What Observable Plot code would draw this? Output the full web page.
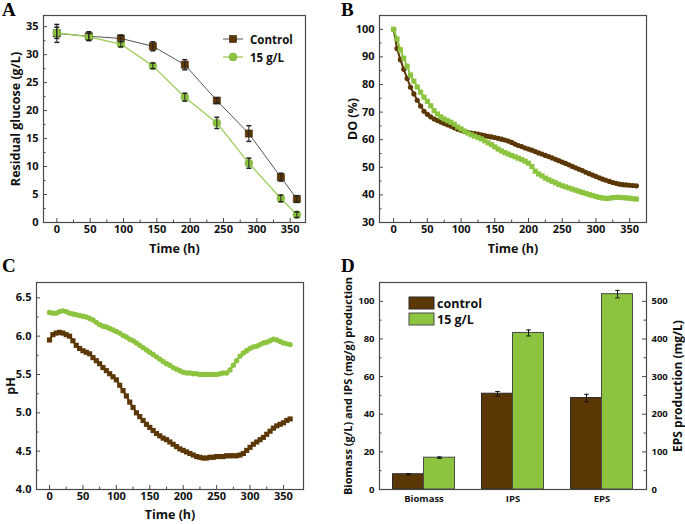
<!DOCTYPE html>
<html><head><meta charset="utf-8">
<script src="https://cdn.jsdelivr.net/npm/d3@7"></script>
<script src="https://cdn.jsdelivr.net/npm/@observablehq/plot@0.6"></script>
<style>
body{margin:0;background:#fff;}
#fig{position:relative;width:685px;height:524px;overflow:hidden;background:#fff;font-family:"Open Sans",sans-serif;}
#fig .p{position:absolute;}
#overlay{position:absolute;left:0;top:0;pointer-events:none;}
</style></head><body><div id="fig"></div>
<script>
// ---------- Colours ----------
const BROWN = "#5c3706", BROWN_EDGE = "#3a2100", GREEN = "#8cc43f", GREEN_LINE = "#9ccc5a", FRAME = "#4a4a4a";
const FONT = "'Open Sans', sans-serif";

// ---------- Panel A: residual glucose ----------
const glucoseTime = [0, 48, 96, 144, 192, 240, 288, 336, 360];
const glucoseControl = [33.8, 33.3, 32.9, 31.5, 28.2, 21.8, 15.9, 8.1, 4.2];
const glucoseControlErr = [1.6, 0.8, 0.6, 0.8, 0.9, 0.5, 1.4, 0.7, 0.6];
const glucose15 = [33.9, 33.2, 31.9, 28.0, 22.4, 17.8, 10.6, 4.3, 1.4];
const glucose15Err = [1.0, 0.6, 0.5, 0.5, 0.7, 1.0, 0.9, 0.6, 0.5];
const timeTicks = [0, 50, 100, 150, 200, 250, 300, 350];
const timeMinor = [25, 75, 125, 175, 225, 275, 325];
const glucoseTicks = [0, 5, 10, 15, 20, 25, 30, 35];
const glucoseMinor = [2.5, 7.5, 12.5, 17.5, 22.5, 27.5, 32.5];

// ---------- Panel B: dissolved oxygen ----------
const doTime = [0,5,10,15,20,25,30,35,40,45,50,55,60,65,70,75,80,85,90,95,100,105,110,115,120,125,130,135,140,145,150,155,160,165,170,175,180,185,190,195,200,205,210,215,220,225,230,235,240,245,250,255,260,265,270,275,280,285,290,295,300,305,310,315,320,325,330,335,340,345,350,355,360];
const doControl = [100,93,89,85.5,82.2,79,76.6,74.3,72.2,70.3,69.2,68.3,67.5,67,66.4,65.9,65.4,64.9,64.3,63.8,63.4,63,62.7,62.4,62.2,62,61.8,61.5,61.2,61,60.8,60.5,60.2,59.9,59.5,59,58.4,57.9,57.5,57,56.6,56.2,55.7,55.2,54.8,54.3,53.9,53.4,52.9,52.4,51.9,51.4,50.9,50.3,49.8,49.3,48.8,48.2,47.7,47.2,46.7,46.2,45.7,45.3,44.9,44.5,44.2,43.9,43.7,43.6,43.5,43.4,43.3];
const do15 = [100,96.5,92.6,89.5,86.6,83.4,81.2,79.1,77.2,75.4,73.9,72.3,70.5,69.3,68.3,67.5,66.9,66.3,65.6,64.6,63.9,63.1,62.4,61.8,61.3,60.8,60.3,59.6,58.9,58.2,57.4,56.6,55.9,55.3,54.8,54.3,53.8,53.3,52.8,52.2,51.5,50.3,48.6,47.6,46.9,46.1,45.5,44.9,44.4,43.8,43.3,42.9,42.5,42.1,41.7,41.3,40.9,40.5,40.1,39.8,39.4,39.1,38.9,38.7,38.8,39,39.1,39.1,39,38.9,38.8,38.6,38.5];
const doTicks = [30, 40, 50, 60, 70, 80, 90, 100];
const doMinor = [35, 45, 55, 65, 75, 85, 95];

// ---------- Panel C: pH ----------
const phTime = doTime;
const phControl = [5.95,6.02,6.04,6.05,6.04,6.02,6.00,5.94,5.88,5.84,5.81,5.79,5.77,5.72,5.68,5.64,5.59,5.55,5.51,5.47,5.43,5.36,5.29,5.22,5.14,5.07,5.00,4.95,4.90,4.85,4.81,4.77,4.73,4.70,4.67,4.65,4.62,4.59,4.56,4.53,4.51,4.49,4.47,4.45,4.43,4.42,4.41,4.41,4.42,4.42,4.43,4.43,4.43,4.44,4.44,4.44,4.44,4.45,4.47,4.51,4.55,4.59,4.62,4.65,4.68,4.72,4.76,4.80,4.83,4.85,4.87,4.90,4.92];
const ph15 = [6.31,6.30,6.30,6.32,6.33,6.32,6.30,6.29,6.28,6.27,6.26,6.25,6.23,6.21,6.18,6.15,6.13,6.12,6.10,6.08,6.06,6.04,6.01,5.99,5.96,5.94,5.91,5.88,5.85,5.82,5.79,5.76,5.73,5.70,5.67,5.64,5.62,5.59,5.57,5.55,5.53,5.52,5.52,5.51,5.51,5.50,5.50,5.50,5.50,5.50,5.50,5.51,5.52,5.52,5.56,5.62,5.68,5.74,5.78,5.81,5.84,5.86,5.87,5.89,5.91,5.92,5.94,5.96,5.95,5.93,5.91,5.90,5.89];
const phTicks = [4.0, 4.5, 5.0, 5.5, 6.0, 6.5];
const phMinor = [4.25, 4.75, 5.25, 5.75, 6.25];

// ---------- Panel D: production ----------
const prodCategories = ["Biomass", "IPS", "EPS"];
const prodControl = [8.1, 50.9, 243];     // Biomass g/L, IPS mg/g, EPS mg/L
const prodControlErr = [0.4, 1.2, 10];
const prod15 = [16.9, 83.2, 519];
const prod15Err = [0.4, 1.6, 10];
const prodLeftTicks = [0, 20, 40, 60, 80, 100];
const prodLeftMinor = [10, 30, 50, 70, 90];
const prodRightTicks = [0, 100, 200, 300, 400, 500];   // EPS mg/L
const prodRightMinor = [50, 150, 250, 350, 450, 550];
const EPS_FACTOR = 5; // 100 on the left axis = 500 mg/L on the right axis

// ---------- helpers ----------
const capSymbol = {draw(ctx, size) { const r = Math.sqrt(size / Math.PI); ctx.moveTo(-r, 0); ctx.lineTo(r, 0); }};
const baseStyle = {fontFamily: FONT, fontSize: "11px", fontWeight: "bold", color: "#111", background: "transparent", overflow: "visible"};
const titleX = (t, dy, size = 12.5) => Plot.text([t], {text: d => d, frameAnchor: "bottom", dy, lineAnchor: "middle", textAnchor: "middle", fontSize: size, fontWeight: "bold"});
const titleY = (t, side, dx, size = 12.5) => Plot.text([t], {text: d => d, frameAnchor: side, dx, rotate: -90, lineAnchor: "middle", textAnchor: "middle", fontSize: size, fontWeight: "bold"});

function inwardTicks({plotW, plotH, xMajor = [], xMinor = [], yMajor = [], yMinor = [], rMajor = [], rMinor = []}) {
  const s = {stroke: FRAME, strokeWidth: 1};
  return [
    Plot.tickX(xMajor, {x: d => d, insetTop: plotH - 4, ...s}),
    Plot.tickX(xMinor, {x: d => d, insetTop: plotH - 2.5, ...s}),
    Plot.tickY(yMajor, {y: d => d, insetRight: plotW - 4, ...s}),
    Plot.tickY(yMinor, {y: d => d, insetRight: plotW - 2.5, ...s}),
    Plot.tickY(rMajor, {y: d => d, insetLeft: plotW - 4, ...s}),
    Plot.tickY(rMinor, {y: d => d, insetLeft: plotW - 2.5, ...s}),
    Plot.frame({stroke: FRAME, strokeWidth: 1.2})
  ];
}

const fig = document.getElementById("fig");
function place(el, left, top) {
  const d = document.createElement("div");
  d.className = "p"; d.style.left = left + "px"; d.style.top = top + "px";
  d.appendChild(el); fig.appendChild(d);
}

// ---------- Panel A ----------
{
  const rows = glucoseTime.map((t, i) => ({t, c: glucoseControl[i], ce: glucoseControlErr[i], g: glucose15[i], ge: glucose15Err[i]}));
  const W = 340, H = 255, mL = 43, mR = 35, mT = 15, mB = 33;
  const p = Plot.plot({
    width: W, height: H, marginLeft: mL, marginRight: mR, marginTop: mT, marginBottom: mB,
    x: {domain: [-20, 373]}, y: {domain: [0, 37]},
    style: baseStyle,
    marks: [
      ...inwardTicks({plotW: W - mL - mR, plotH: H - mT - mB, xMajor: timeTicks, xMinor: timeMinor, yMajor: glucoseTicks, yMinor: glucoseMinor}),
      Plot.axisX({ticks: timeTicks, tickSize: 0, tickPadding: 3, label: null, fontSize: 11, fontWeight: "bold"}),
      Plot.axisY({ticks: glucoseTicks, tickSize: 0, tickPadding: 5, label: null, fontSize: 11, fontWeight: "bold"}),
      titleX("Time (h)", 26),
      titleY("Residual glucose (g/L)", "left", -28),
      Plot.line(rows, {x: "t", y: "c", stroke: "#555", strokeWidth: 1}),
      Plot.line(rows, {x: "t", y: "g", stroke: GREEN_LINE, strokeWidth: 1.3}),
      Plot.dot(rows, {x: "t", y: "c", symbol: "square", r: 4, fill: BROWN, stroke: BROWN_EDGE, strokeWidth: 0.6}),
      Plot.dot(rows, {x: "t", y: "g", symbol: "circle", r: 3.9, fill: GREEN, stroke: "#7ab03a", strokeWidth: 0.6}),
      Plot.ruleX(rows, {x: "t", y1: d => d.c - d.ce, y2: d => d.c + d.ce, stroke: "#222", strokeWidth: 1}),
      Plot.dot(rows, {x: "t", y: d => d.c - d.ce, symbol: capSymbol, r: 2.5, stroke: "#222", fill: "none"}),
      Plot.dot(rows, {x: "t", y: d => d.c + d.ce, symbol: capSymbol, r: 2.5, stroke: "#222", fill: "none"}),
      Plot.ruleX(rows, {x: "t", y1: d => d.g - d.ge, y2: d => d.g + d.ge, stroke: "#222", strokeWidth: 1}),
      Plot.dot(rows, {x: "t", y: d => d.g - d.ge, symbol: capSymbol, r: 2.5, stroke: "#222", fill: "none"}),
      Plot.dot(rows, {x: "t", y: d => d.g + d.ge, symbol: capSymbol, r: 2.5, stroke: "#222", fill: "none"})
    ]
  });
  place(p, 0, 0);
}

// ---------- Panel B ----------
{
  const rows = doTime.map((t, i) => ({t, c: doControl[i], g: do15[i]}));
  const W = 345, H = 255, mL = 39, mR = 39, mT = 15, mB = 33;
  const p = Plot.plot({
    width: W, height: H, marginLeft: mL, marginRight: mR, marginTop: mT, marginBottom: mB,
    x: {domain: [-21, 375]}, y: {domain: [30, 105]},
    style: baseStyle,
    marks: [
      ...inwardTicks({plotW: W - mL - mR, plotH: H - mT - mB, xMajor: timeTicks, xMinor: timeMinor, yMajor: doTicks, yMinor: doMinor}),
      Plot.axisX({ticks: timeTicks, tickSize: 0, tickPadding: 3, label: null, fontSize: 11, fontWeight: "bold"}),
      Plot.axisY({ticks: doTicks, tickSize: 0, tickPadding: 5, label: null, fontSize: 11, fontWeight: "bold"}),
      titleX("Time (h)", 26),
      titleY("DO (%)", "left", -27),
      Plot.line(rows, {x: "t", y: "c", stroke: BROWN, strokeWidth: 2}),
      Plot.dot(rows, {x: "t", y: "c", symbol: "circle", r: 2.6, fill: BROWN, stroke: "none"}),
      Plot.line(rows, {x: "t", y: "g", stroke: GREEN, strokeWidth: 2}),
      Plot.dot(rows, {x: "t", y: "g", symbol: "square", r: 2.9, fill: GREEN, stroke: "none"})
    ]
  });
  place(p, 340, 0);
}

// ---------- Panel C ----------
{
  const rows = phTime.map((t, i) => ({t, c: phControl[i], g: ph15[i]}));
  const W = 340, H = 269, mL = 36, mR = 37, mT = 27, mB = 35;
  const p = Plot.plot({
    width: W, height: H, marginLeft: mL, marginRight: mR, marginTop: mT, marginBottom: mB,
    x: {domain: [-19.5, 380]}, y: {domain: [4, 6.7]},
    style: baseStyle,
    marks: [
      ...inwardTicks({plotW: W - mL - mR, plotH: H - mT - mB, xMajor: timeTicks, xMinor: timeMinor, yMajor: phTicks, yMinor: phMinor}),
      Plot.axisX({ticks: timeTicks, tickSize: 0, tickPadding: 3, label: null, fontSize: 11, fontWeight: "bold"}),
      Plot.axisY({ticks: phTicks, tickSize: 0, tickPadding: 5, label: null, tickFormat: d3.format(".1f"), fontSize: 11, fontWeight: "bold"}),
      titleX("Time (h)", 25),
      titleY("pH", "left", -26),
      Plot.line(rows, {x: "t", y: "g", stroke: GREEN, strokeWidth: 2}),
      Plot.dot(rows, {x: "t", y: "g", symbol: "circle", r: 2.7, fill: GREEN, stroke: "none"}),
      Plot.line(rows, {x: "t", y: "c", stroke: BROWN, strokeWidth: 2}),
      Plot.dot(rows, {x: "t", y: "c", symbol: "square", r: 2.9, fill: BROWN, stroke: "none"})
    ]
  });
  place(p, 0, 255);
}

// ---------- Panel D ----------
{
  const rows = prodCategories.map((cat, i) => {
    const f = cat === "EPS" ? EPS_FACTOR : 1;
    return {cat, c: prodControl[i] / f, ce: prodControlErr[i] / f, g: prod15[i] / f, ge: prod15Err[i] / f};
  });
  const W = 345, H = 269, mL = 39, mR = 39, mT = 27, mB = 35;
  const bandOff = 15.5;
  const eb = {stroke: "#111", strokeWidth: 1};
  const p = Plot.plot({
    width: W, height: H, marginLeft: mL, marginRight: mR, marginTop: mT, marginBottom: mB,
    x: {type: "band", domain: prodCategories, padding: 0}, y: {domain: [0, 110]},
    style: baseStyle,
    marks: [
      Plot.barY(rows, {x: "cat", y: "c", fill: BROWN, stroke: "#2a2a2a", strokeWidth: 1, insetLeft: 13.5, insetRight: 44.5}),
      Plot.barY(rows, {x: "cat", y: "g", fill: GREEN, stroke: "#4a4a4a", strokeWidth: 1, insetLeft: 44.5, insetRight: 13.5}),
      Plot.ruleX(rows, {x: "cat", y1: d => d.c - d.ce, y2: d => d.c + d.ce, dx: -bandOff, ...eb}),
      Plot.dot(rows, {x: "cat", y: d => d.c - d.ce, dx: -bandOff, symbol: capSymbol, r: 2.3, fill: "none", ...eb}),
      Plot.dot(rows, {x: "cat", y: d => d.c + d.ce, dx: -bandOff, symbol: capSymbol, r: 2.3, fill: "none", ...eb}),
      Plot.ruleX(rows, {x: "cat", y1: d => d.g - d.ge, y2: d => d.g + d.ge, dx: bandOff, ...eb}),
      Plot.dot(rows, {x: "cat", y: d => d.g - d.ge, dx: bandOff, symbol: capSymbol, r: 2.3, fill: "none", ...eb}),
      Plot.dot(rows, {x: "cat", y: d => d.g + d.ge, dx: bandOff, symbol: capSymbol, r: 2.3, fill: "none", ...eb}),
      ...inwardTicks({plotW: W - mL - mR, plotH: H - mT - mB, yMajor: prodLeftTicks, yMinor: prodLeftMinor,
        rMajor: prodRightTicks.map(v => v / EPS_FACTOR), rMinor: prodRightMinor.map(v => v / EPS_FACTOR)}),
      Plot.axisX({tickSize: 0, tickPadding: 6, label: null, fontSize: 9.5, fontWeight: "bold"}),
      Plot.axisY({anchor: "left", ticks: prodLeftTicks, tickSize: 0, tickPadding: 5, label: null, fontSize: 9.5, fontWeight: "bold"}),
      Plot.axisY({anchor: "right", ticks: prodRightTicks.map(v => v / EPS_FACTOR), tickFormat: d => Math.round(d * EPS_FACTOR), tickSize: 0, tickPadding: 5, label: null, fontSize: 9.5, fontWeight: "bold"}),
      titleY("Biomass (g/L) and IPS (mg/g) production", "left", -31, 11),
      titleY("EPS production (mg/L)", "right", 32, 12)
    ]
  });
  place(p, 340, 255);
}

// ---------- Overlay: panel letters and legends ----------
{
  const ns = "http://www.w3.org/2000/svg";
  const svg = document.createElementNS(ns, "svg");
  svg.setAttribute("id", "overlay"); svg.setAttribute("width", 685); svg.setAttribute("height", 524);
  const add = (tag, attrs, text) => {
    const e = document.createElementNS(ns, tag);
    for (const k in attrs) e.setAttribute(k, attrs[k]);
    if (text != null) e.textContent = text;
    svg.appendChild(e); return e;
  };
  const letter = {"font-family": "'Liberation Serif', serif", "font-weight": "bold", "font-size": 19};
  add("text", {x: 2, y: 16, ...letter}, "A");
  add("text", {x: 341, y: 16, ...letter}, "B");
  add("text", {x: 2, y: 272, ...letter}, "C");
  add("text", {x: 341, y: 272, ...letter}, "D");
  const lt = {"font-family": FONT, "font-weight": "bold", "font-size": 11.5, "dominant-baseline": "central", fill: "#111"};
  // legend A
  add("line", {x1: 223, x2: 243, y1: 39, y2: 39, stroke: "#555", "stroke-width": 1});
  add("rect", {x: 229.5, y: 35.5, width: 7, height: 7, fill: BROWN, stroke: BROWN_EDGE, "stroke-width": 0.6});
  add("text", {x: 250, y: 39.5, ...lt}, "Control");
  add("line", {x1: 223, x2: 243, y1: 57, y2: 57, stroke: GREEN_LINE, "stroke-width": 1.3});
  add("circle", {cx: 233, cy: 57, r: 3.9, fill: GREEN, stroke: "#7ab03a", "stroke-width": 0.6});
  add("text", {x: 250, y: 57.5, ...lt}, "15 g/L");
  // legend D
  add("rect", {x: 409, y: 297, width: 25, height: 12, fill: BROWN, stroke: "#2a2a2a", "stroke-width": 1});
  add("text", {x: 437, y: 303.5, ...lt, "font-size": 12.5}, "control");
  add("rect", {x: 409, y: 313, width: 25, height: 12, fill: GREEN, stroke: "#4a4a4a", "stroke-width": 1});
  add("text", {x: 437, y: 319.5, ...lt, "font-size": 12.5}, "15 g/L");
  fig.appendChild(svg);
}
</script></body></html>
